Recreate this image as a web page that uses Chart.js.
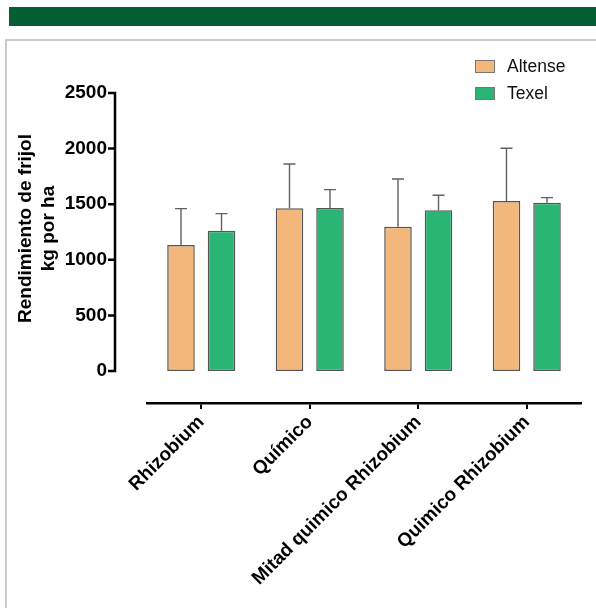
<!DOCTYPE html>
<html lang="es">
<head>
    <meta charset="UTF-8">
    <title>Rendimiento de frijol</title>
    <style>
        html, body {
            margin: 0;
            overflow: hidden;
            background: #fff;
            font-family: Arial, "Liberation Sans", sans-serif;
        }

        .band {
            position: absolute;
            left: 9px;
            top: 7px;
            right: 0;
            height: 19px;
            background: #035e34;
        }

        .panel {
            position: absolute;
            left: 5px;
            top: 39px;
            width: 620px;
            height: 620px;
            border-left: 2px solid #cbcbcb;
            border-top: 2px solid #cbcbcb;
        }

        .chart-box {
            position: absolute;
            left: 0;
            top: 0;
            width: 596px;
            height: 608px;
        }

        .legend {
            position: absolute;
            left: 475px;
            top: 53px;
        }

        .legend-row {
            display: flex;
            align-items: center;
            height: 27px;
            font-size: 17.5px;
            color: #111;
        }

        .legend-box {
            width: 18px;
            height: 11px;
            border: 1px solid #777;
            margin-right: 12px;
        }
    </style>
</head>
<body>

<div class="band"></div>
<div class="panel"></div>
<div class="chart-box">
    <canvas id="yieldChart"></canvas>
</div>
<div class="legend" id="legend"></div>

<script src="https://cdn.jsdelivr.net/npm/chart.js"></script>
<script>
    // Treatments on the x axis
    const categories = ['Rhizobium', 'Químico', 'Mitad quimico Rhizobium', 'Quimico Rhizobium'];

    // Mean yield (kg/ha) and standard deviation per variety
    const altenseMeans = [1133, 1463, 1298, 1529];
    const altenseSD = [327, 399, 429, 474];
    const texelMeans = [1262, 1466, 1445, 1514];
    const texelSD = [153, 165, 135, 45];

    const yTicks = [0, 500, 1000, 1500, 2000, 2500];

    const FONT = 'Arial, "Liberation Sans", sans-serif';

    const datasets = [
        { label: 'Altense', data: altenseMeans, sd: altenseSD, backgroundColor: '#f3b77c' },
        { label: 'Texel', data: texelMeans, sd: texelSD, backgroundColor: '#2ab574' }
    ].map(d => Object.assign(d, {
        borderColor: '#555',
        borderWidth: 1.5,
        borderSkipped: false,
        categoryPercentage: 0.747,
        barPercentage: 0.68
    }));

    // Error bars (upper only) and the detached Prism-style y axis
    const prismPlugin = {
        id: 'prismExtras',
        afterDatasetsDraw(chart) {
            const { ctx, chartArea, scales: { y } } = chart;
            ctx.save();
            ctx.strokeStyle = '#606060';
            ctx.lineWidth = 1.4;
            chart.data.datasets.forEach((ds, i) => {
                chart.getDatasetMeta(i).data.forEach((bar, j) => {
                    const top = y.getPixelForValue(ds.data[j] + ds.sd[j]);
                    ctx.beginPath();
                    ctx.moveTo(bar.x, bar.y);
                    ctx.lineTo(bar.x, top);
                    ctx.moveTo(bar.x - 6, top);
                    ctx.lineTo(bar.x + 6, top);
                    ctx.stroke();
                });
            });

            const ax = chartArea.left - 32;
            ctx.strokeStyle = '#000';
            ctx.lineWidth = 2.5;
            ctx.beginPath();
            ctx.moveTo(ax, y.getPixelForValue(yTicks[yTicks.length - 1]) - 1.25);
            ctx.lineTo(ax, y.getPixelForValue(0) + 1.25);
            yTicks.forEach(v => {
                const py = y.getPixelForValue(v);
                ctx.moveTo(ax - 7, py);
                ctx.lineTo(ax, py);
            });
            ctx.stroke();
            ctx.restore();
        }
    };

    const config = {
        type: 'bar',
        data: { labels: categories, datasets: datasets },
        options: {
            responsive: true,
            maintainAspectRatio: false,
            animation: false,
            layout: { padding: { left: 10, right: 15, top: 54, bottom: 0 } },
            plugins: {
                legend: { display: false },
                tooltip: { enabled: false }
            },
            scales: {
                x: {
                    grid: {
                        display: true,
                        drawOnChartArea: false,
                        drawTicks: true,
                        tickLength: 6,
                        offset: false,
                        color: '#000',
                        lineWidth: 2
                    },
                    border: { display: true, color: '#000', width: 2.5 },
                    ticks: {
                        minRotation: 45,
                        maxRotation: 45,
                        autoSkip: false,
                        padding: 2,
                        color: '#000',
                        font: { family: FONT, size: 19, weight: 'bold' }
                    },
                    afterFit: s => { s.height = 205; }
                },
                y: {
                    min: -288,
                    max: 2851,
                    grid: { display: false },
                    border: { display: false },
                    afterBuildTicks: s => { s.ticks = yTicks.map(v => ({ value: v })); },
                    afterFit: s => { s.width = 137; },
                    ticks: {
                        padding: 32,
                        color: '#000',
                        font: { family: FONT, size: 19, weight: 'bold' },
                        callback: value => String(value)
                    },
                    title: {
                        display: true,
                        text: ['Rendimiento de frijol', 'kg por ha'],
                        color: '#000',
                        padding: { top: 4.6, bottom: 4 },
                        font: { family: FONT, size: 19, weight: 'bold' }
                    }
                }
            }
        },
        plugins: [prismPlugin]
    };

    const yieldChart = new Chart(document.getElementById('yieldChart'), config);

    // Legend built from the datasets, stacked vertically
    const legendEl = document.getElementById('legend');
    datasets.forEach(ds => {
        const row = document.createElement('div');
        row.className = 'legend-row';
        const box = document.createElement('span');
        box.className = 'legend-box';
        box.style.background = ds.backgroundColor;
        const txt = document.createElement('span');
        txt.textContent = ds.label;
        row.appendChild(box);
        row.appendChild(txt);
        legendEl.appendChild(row);
    });
</script>

</body>
</html>
